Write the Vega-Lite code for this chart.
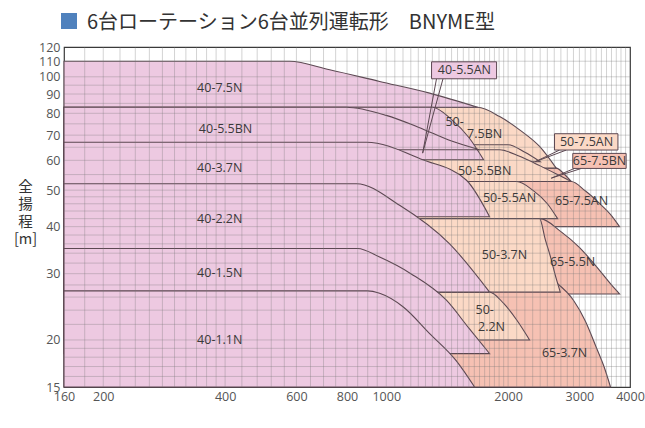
{
  "$schema": "https://vega.github.io/schema/vega-lite/v6.json",
  "autosize": {"type": "none"},
  "padding": {"left": 64, "top": 47, "right": 15, "bottom": 41},
  "width": 566,
  "height": 340,
  "background": "white",
  "title": {
    "text": "6台ローテーション6台並列運転形　BNYME型",
    "color": "#333333",
    "fontSize": 20,
    "font": "Noto Sans CJK JP",
    "fontWeight": "normal",
    "anchor": "start",
    "frame": "group",
    "dx": 23,
    "offset": -20
  },
  "config": {
    "view": {"stroke": "#3a3a3a", "strokeWidth": 1.2},
    "font": "Open Sans"
  },
  "datasets": {
    "regions": [
      {"m": "65-7.5BN", "s": "65", "q": 160, "h": 57.2, "lo": 52.7},
      {"m": "65-7.5BN", "s": "65", "q": 2629, "h": 57.2, "lo": 52.7},
      {"m": "65-7.5BN", "s": "65", "q": 2750, "h": 55.2, "lo": 52.7},
      {"m": "65-7.5BN", "s": "65", "q": 2865, "h": 52.7, "lo": 52.7},
      {"m": "65-7.5AN", "s": "65", "q": 160, "h": 52.7, "lo": 40},
      {"m": "65-7.5AN", "s": "65", "q": 2865, "h": 52.7, "lo": 40},
      {"m": "65-7.5AN", "s": "65", "q": 3100, "h": 49.8, "lo": 40},
      {"m": "65-7.5AN", "s": "65", "q": 3364, "h": 46.1, "lo": 40},
      {"m": "65-7.5AN", "s": "65", "q": 3600, "h": 42.8, "lo": 40},
      {"m": "65-7.5AN", "s": "65", "q": 3769, "h": 40, "lo": 40},
      {"m": "65-5.5N", "s": "65", "q": 160, "h": 42, "lo": 26.5},
      {"m": "65-5.5N", "s": "65", "q": 2400, "h": 42, "lo": 26.5},
      {"m": "65-5.5N", "s": "65", "q": 2700, "h": 38.8, "lo": 26.5},
      {"m": "65-5.5N", "s": "65", "q": 3003, "h": 35.2, "lo": 26.5},
      {"m": "65-5.5N", "s": "65", "q": 3364, "h": 30.6, "lo": 26.5},
      {"m": "65-5.5N", "s": "65", "q": 3600, "h": 28.0, "lo": 26.5},
      {"m": "65-5.5N", "s": "65", "q": 3770, "h": 26.5, "lo": 26.5},
      {"m": "65-3.7N", "s": "65", "q": 160, "h": 30, "lo": 15},
      {"m": "65-3.7N", "s": "65", "q": 2400, "h": 30, "lo": 15},
      {"m": "65-3.7N", "s": "65", "q": 2650, "h": 28.2, "lo": 15},
      {"m": "65-3.7N", "s": "65", "q": 2900, "h": 25.5, "lo": 15},
      {"m": "65-3.7N", "s": "65", "q": 3100, "h": 22.5, "lo": 15},
      {"m": "65-3.7N", "s": "65", "q": 3303, "h": 19.1, "lo": 15},
      {"m": "65-3.7N", "s": "65", "q": 3450, "h": 17, "lo": 15},
      {"m": "65-3.7N", "s": "65", "q": 3580, "h": 15, "lo": 15},
      {"m": "50-7.5BN", "s": "50", "q": 160, "h": 83, "lo": 57.2},
      {"m": "50-7.5BN", "s": "50", "q": 1682, "h": 83, "lo": 57.2},
      {"m": "50-7.5BN", "s": "50", "q": 1906, "h": 78.4, "lo": 57.2},
      {"m": "50-7.5BN", "s": "50", "q": 2135, "h": 72.3, "lo": 57.2},
      {"m": "50-7.5BN", "s": "50", "q": 2392, "h": 65.3, "lo": 57.2},
      {"m": "50-7.5BN", "s": "50", "q": 2629, "h": 57.2, "lo": 57.2},
      {"m": "50-7.5AN", "s": "50", "q": 160, "h": 66, "lo": 59.5},
      {"m": "50-7.5AN", "s": "50", "q": 2000, "h": 66, "lo": 59.5},
      {"m": "50-7.5AN", "s": "50", "q": 2200, "h": 63, "lo": 59.5},
      {"m": "50-7.5AN", "s": "50", "q": 2400, "h": 59.5, "lo": 59.5},
      {"m": "50-5.5BN", "s": "50", "q": 160, "h": 64, "lo": 52.7},
      {"m": "50-5.5BN", "s": "50", "q": 1906, "h": 64, "lo": 52.7},
      {"m": "50-5.5BN", "s": "50", "q": 2135, "h": 61.5, "lo": 52.7},
      {"m": "50-5.5BN", "s": "50", "q": 2400, "h": 58, "lo": 52.7},
      {"m": "50-5.5BN", "s": "50", "q": 2650, "h": 55, "lo": 52.7},
      {"m": "50-5.5BN", "s": "50", "q": 2865, "h": 52.7, "lo": 52.7},
      {"m": "50-5.5AN", "s": "50", "q": 160, "h": 52.7, "lo": 42},
      {"m": "50-5.5AN", "s": "50", "q": 2100, "h": 52.7, "lo": 42},
      {"m": "50-5.5AN", "s": "50", "q": 2300, "h": 50, "lo": 42},
      {"m": "50-5.5AN", "s": "50", "q": 2500, "h": 46, "lo": 42},
      {"m": "50-5.5AN", "s": "50", "q": 2650, "h": 42, "lo": 42},
      {"m": "50-3.7N", "s": "50", "q": 160, "h": 42, "lo": 26.8},
      {"m": "50-3.7N", "s": "50", "q": 2392, "h": 42, "lo": 26.8},
      {"m": "50-3.7N", "s": "50", "q": 2470, "h": 37, "lo": 26.8},
      {"m": "50-3.7N", "s": "50", "q": 2550, "h": 33, "lo": 26.8},
      {"m": "50-3.7N", "s": "50", "q": 2620, "h": 29.5, "lo": 26.8},
      {"m": "50-3.7N", "s": "50", "q": 2691, "h": 26.8, "lo": 26.8},
      {"m": "50-2.2N", "s": "50", "q": 160, "h": 26.8, "lo": 20},
      {"m": "50-2.2N", "s": "50", "q": 1800, "h": 26.8, "lo": 20},
      {"m": "50-2.2N", "s": "50", "q": 1950, "h": 25, "lo": 20},
      {"m": "50-2.2N", "s": "50", "q": 2100, "h": 22.6, "lo": 20},
      {"m": "50-2.2N", "s": "50", "q": 2260, "h": 20, "lo": 20},
      {"m": "40-7.5N", "s": "40", "q": 160, "h": 110, "lo": 83},
      {"m": "40-7.5N", "s": "40", "q": 577, "h": 110, "lo": 83},
      {"m": "40-7.5N", "s": "40", "q": 725, "h": 104.4, "lo": 83},
      {"m": "40-7.5N", "s": "40", "q": 963, "h": 97.2, "lo": 83},
      {"m": "40-7.5N", "s": "40", "q": 1280, "h": 90.5, "lo": 83},
      {"m": "40-7.5N", "s": "40", "q": 1682, "h": 83, "lo": 83},
      {"m": "40-5.5AN", "s": "40", "q": 160, "h": 83, "lo": 60.2},
      {"m": "40-5.5AN", "s": "40", "q": 1300, "h": 83, "lo": 60.2},
      {"m": "40-5.5AN", "s": "40", "q": 1450, "h": 77, "lo": 60.2},
      {"m": "40-5.5AN", "s": "40", "q": 1600, "h": 69, "lo": 60.2},
      {"m": "40-5.5AN", "s": "40", "q": 1740, "h": 60.2, "lo": 60.2},
      {"m": "40-5.5BN", "s": "40", "q": 160, "h": 83, "lo": 64},
      {"m": "40-5.5BN", "s": "40", "q": 797, "h": 83, "lo": 64},
      {"m": "40-5.5BN", "s": "40", "q": 1000, "h": 79, "lo": 64},
      {"m": "40-5.5BN", "s": "40", "q": 1200, "h": 73.5, "lo": 64},
      {"m": "40-5.5BN", "s": "40", "q": 1450, "h": 67.5, "lo": 64},
      {"m": "40-5.5BN", "s": "40", "q": 1700, "h": 64, "lo": 64},
      {"m": "40-3.7N", "s": "40", "q": 160, "h": 67, "lo": 42.5},
      {"m": "40-3.7N", "s": "40", "q": 894, "h": 67, "lo": 42.5},
      {"m": "40-3.7N", "s": "40", "q": 1231, "h": 60.2, "lo": 42.5},
      {"m": "40-3.7N", "s": "40", "q": 1576, "h": 53.2, "lo": 42.5},
      {"m": "40-3.7N", "s": "40", "q": 1800, "h": 42.5, "lo": 42.5},
      {"m": "40-2.2N", "s": "40", "q": 160, "h": 52, "lo": 26.8},
      {"m": "40-2.2N", "s": "40", "q": 845, "h": 52, "lo": 26.8},
      {"m": "40-2.2N", "s": "40", "q": 1079, "h": 45.6, "lo": 26.8},
      {"m": "40-2.2N", "s": "40", "q": 1434, "h": 36, "lo": 26.8},
      {"m": "40-2.2N", "s": "40", "q": 1800, "h": 26.8, "lo": 26.8},
      {"m": "40-1.5N", "s": "40", "q": 160, "h": 35, "lo": 18.4},
      {"m": "40-1.5N", "s": "40", "q": 850, "h": 35, "lo": 18.4},
      {"m": "40-1.5N", "s": "40", "q": 963, "h": 33.2, "lo": 18.4},
      {"m": "40-1.5N", "s": "40", "q": 1150, "h": 30, "lo": 18.4},
      {"m": "40-1.5N", "s": "40", "q": 1408, "h": 25.5, "lo": 18.4},
      {"m": "40-1.5N", "s": "40", "q": 1600, "h": 21.5, "lo": 18.4},
      {"m": "40-1.5N", "s": "40", "q": 1800, "h": 18.4, "lo": 18.4},
      {"m": "40-1.1N", "s": "40", "q": 160, "h": 27, "lo": 15},
      {"m": "40-1.1N", "s": "40", "q": 900, "h": 27, "lo": 15},
      {"m": "40-1.1N", "s": "40", "q": 963, "h": 26.6, "lo": 15},
      {"m": "40-1.1N", "s": "40", "q": 1100, "h": 24.5, "lo": 15},
      {"m": "40-1.1N", "s": "40", "q": 1280, "h": 20.8, "lo": 15},
      {"m": "40-1.1N", "s": "40", "q": 1490, "h": 17.6, "lo": 15},
      {"m": "40-1.1N", "s": "40", "q": 1653, "h": 15, "lo": 15}
    ],
    "gridx": [
      {"v": 180}, {"v": 200}, {"v": 220}, {"v": 240}, {"v": 260}, {"v": 280}, {"v": 300}, {"v": 320}, {"v": 340}, {"v": 360}, {"v": 380}, {"v": 400},
      {"v": 440}, {"v": 480}, {"v": 520}, {"v": 560}, {"v": 600},
      {"v": 650}, {"v": 700}, {"v": 750}, {"v": 800}, {"v": 850}, {"v": 900}, {"v": 950}, {"v": 1000},
      {"v": 1050}, {"v": 1100}, {"v": 1150}, {"v": 1200}, {"v": 1250}, {"v": 1300}, {"v": 1350}, {"v": 1400}, {"v": 1450}, {"v": 1500},
      {"v": 1550}, {"v": 1600}, {"v": 1650}, {"v": 1700}, {"v": 1750}, {"v": 1800}, {"v": 1850}, {"v": 1900}, {"v": 1950}, {"v": 2000},
      {"v": 2100}, {"v": 2200}, {"v": 2300}, {"v": 2400}, {"v": 2500}, {"v": 2600}, {"v": 2700}, {"v": 2800}, {"v": 2900}, {"v": 3000},
      {"v": 3100}, {"v": 3200}, {"v": 3300}, {"v": 3400}, {"v": 3500}, {"v": 3600}, {"v": 3700}, {"v": 3800}, {"v": 3900}
    ],
    "gridy": [
      {"v": 16}, {"v": 17}, {"v": 18}, {"v": 19}, {"v": 20}, {"v": 22}, {"v": 24}, {"v": 26}, {"v": 28}, {"v": 30},
      {"v": 32}, {"v": 34}, {"v": 36}, {"v": 38}, {"v": 40}, {"v": 42}, {"v": 44}, {"v": 46}, {"v": 48}, {"v": 50},
      {"v": 55}, {"v": 60}, {"v": 65}, {"v": 70}, {"v": 75}, {"v": 80}, {"v": 85}, {"v": 90}, {"v": 95}, {"v": 100}, {"v": 110}
    ],
    "labels": [
      {"t": "40-7.5N", "q": 388, "h": 93.5},
      {"t": "40-5.5BN", "q": 401, "h": 72.8},
      {"t": "40-3.7N", "q": 388, "h": 57.2},
      {"t": "40-2.2N", "q": 388, "h": 41.8},
      {"t": "40-1.5N", "q": 388, "h": 30.2},
      {"t": "40-1.1N", "q": 388, "h": 20.0},
      {"t": "50-", "q": 1475, "h": 75.9},
      {"t": "7.5BN", "q": 1750, "h": 70.5},
      {"t": "50-5.5BN", "q": 1750, "h": 56.2},
      {"t": "50-5.5AN", "q": 2016, "h": 47.6},
      {"t": "65-7.5AN", "q": 3037, "h": 46.7},
      {"t": "50-3.7N", "q": 1959, "h": 33.6},
      {"t": "65-5.5N", "q": 2885, "h": 32.2},
      {"t": "50-", "q": 1750, "h": 24.0},
      {"t": "2.2N", "q": 1820, "h": 21.7},
      {"t": "65-3.7N", "q": 2757, "h": 18.5}
    ],
    "boxes": [
      {"t": "40-5.5AN", "s": "40", "q1": 1294, "q2": 1873, "h1": 109.6, "h2": 98.8, "qc": 1560, "hc": 104.2},
      {"t": "50-7.5AN", "s": "50", "q1": 2604, "q2": 3735, "h1": 70.6, "h2": 63.9, "qc": 3124, "hc": 67.3},
      {"t": "65-7.5BN", "s": "65", "q1": 2889, "q2": 3913, "h1": 62.6, "h2": 57.1, "qc": 3364, "hc": 59.8}
    ],
    "pointers": [
      {"t": "40-5.5AN", "o": 1, "q": 1331, "h": 98.8},
      {"t": "40-5.5AN", "o": 2, "q": 1230, "h": 62.7},
      {"t": "40-5.5AN", "o": 3, "q": 1381, "h": 98.8},
      {"t": "50-7.5AN", "o": 1, "q": 2680, "h": 63.9},
      {"t": "50-7.5AN", "o": 2, "q": 2334, "h": 59.5},
      {"t": "50-7.5AN", "o": 3, "q": 2785, "h": 63.9},
      {"t": "65-7.5BN", "o": 1, "q": 2917, "h": 57.1},
      {"t": "65-7.5BN", "o": 2, "q": 2556, "h": 53.8},
      {"t": "65-7.5BN", "o": 3, "q": 3033, "h": 57.1}
    ],
    "badge": [
      {"k": "■", "q": 160, "h": 15}
    ]
  },
  "layer": [
    {
      "data": {"name": "regions"},
      "mark": {"type": "area", "interpolate": "monotone", "stroke": "#5c4852", "strokeWidth": 1.1},
      "encoding": {
        "x": {
          "field": "q", "type": "quantitative",
          "scale": {"type": "log", "domain": [160, 4000], "nice": false},
          "axis": {
            "values": [160, 200, 400, 600, 800, 1000, 2000, 3000, 4000],
            "format": "d",
            "grid": false, "ticks": false, "domain": false,
            "labelFontSize": 12.5, "labelColor": "#555555", "labelPadding": 3,
            "labelFlush": false, "labelOverlap": false,
            "title": "給水量 [L/min]", "titleFont": "Noto Sans CJK JP", "titleFontSize": 15,
            "titleFontWeight": "normal", "titleColor": "#333333",
            "titleX": 279, "titleY": 355, "titleBaseline": "top", "titleAlign": "center"
          }
        },
        "y": {
          "field": "h", "type": "quantitative",
          "scale": {"type": "log", "domain": [15, 120], "nice": false},
          "axis": {
            "values": [15, 20, 30, 40, 50, 60, 70, 80, 90, 100, 110, 120],
            "format": "d",
            "grid": false, "ticks": false, "domain": false,
            "labelFontSize": 12.5, "labelColor": "#555555", "labelPadding": 4,
            "labelFlush": false, "labelOverlap": false,
            "title": ["全", "揚", "程", "[m]"], "titleFont": "Noto Sans CJK JP", "titleFontSize": 14.5,
            "titleFontWeight": "normal", "titleColor": "#333333", "titleAngle": 0,
            "titleX": -39, "titleY": 133, "titleBaseline": "top", "titleAlign": "center",
            "titleLineHeight": 17.5
          }
        },
        "y2": {"field": "lo"},
        "detail": {"field": "m"},
        "fill": {
          "field": "s", "type": "nominal",
          "scale": {"domain": ["40", "50", "65"], "range": ["#edc9e1", "#fbd9c6", "#f6c1b3"]},
          "legend": null
        },
        "fillOpacity": {"value": 1}
      }
    },
    {
      "data": {"name": "gridx"},
      "mark": {"type": "rule", "stroke": "#777777", "strokeOpacity": 0.32, "strokeWidth": 1},
      "encoding": {"x": {"field": "v", "type": "quantitative"}}
    },
    {
      "data": {"name": "gridy"},
      "mark": {"type": "rule", "stroke": "#777777", "strokeOpacity": 0.32, "strokeWidth": 1},
      "encoding": {"y": {"field": "v", "type": "quantitative"}}
    },
    {
      "data": {"name": "labels"},
      "mark": {"type": "text", "fontSize": 12.5, "color": "#3a3a3a", "font": "Open Sans"},
      "encoding": {
        "x": {"field": "q", "type": "quantitative"},
        "y": {"field": "h", "type": "quantitative"},
        "text": {"field": "t"}
      }
    },
    {
      "data": {"name": "pointers"},
      "mark": {"type": "line", "stroke": "#5c4852", "strokeWidth": 1},
      "encoding": {
        "x": {"field": "q", "type": "quantitative"},
        "y": {"field": "h", "type": "quantitative"},
        "detail": {"field": "t"},
        "order": {"field": "o"}
      }
    },
    {
      "data": {"name": "boxes"},
      "mark": {"type": "rect", "stroke": "#5c4852", "strokeWidth": 1},
      "encoding": {
        "x": {"field": "q1", "type": "quantitative"},
        "x2": {"field": "q2"},
        "y": {"field": "h1", "type": "quantitative"},
        "y2": {"field": "h2"},
        "fill": {"field": "s", "type": "nominal", "legend": null}
      }
    },
    {
      "data": {"name": "boxes"},
      "mark": {"type": "text", "fontSize": 12.5, "color": "#3a3a3a", "font": "Open Sans"},
      "encoding": {
        "x": {"field": "qc", "type": "quantitative"},
        "y": {"field": "hc", "type": "quantitative"},
        "text": {"field": "t"}
      }
    },
    {
      "data": {"name": "badge"},
      "mark": {"type": "square", "size": 0, "opacity": 0},
      "encoding": {
        "x": {"field": "q", "type": "quantitative"},
        "y": {"field": "h", "type": "quantitative"},
        "color": {
          "field": "k", "type": "nominal",
          "scale": {"range": ["#4f81bd"]},
          "legend": {
            "orient": "none", "legendX": -3, "legendY": -34, "title": null,
            "labelExpr": "''", "labelFontSize": 1, "padding": 0,
            "symbolType": "square", "symbolSize": 256, "symbolOpacity": 1,
            "symbolStrokeWidth": 0, "symbolFillColor": "#4f81bd"
          }
        }
      }
    }
  ]
}
